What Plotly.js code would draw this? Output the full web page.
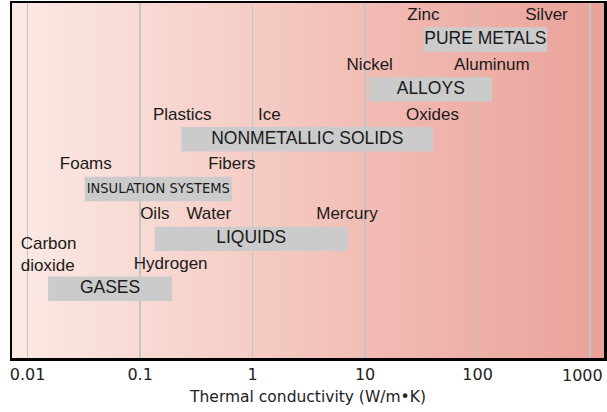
<!DOCTYPE html>
<html>
<head>
<meta charset="utf-8">
<script src="https://cdn.plot.ly/plotly-3.0.1.min.js"></script>
<style>html,body{margin:0;padding:0;background:#fff;}#chart{width:607px;height:412px;}</style>
</head>
<body>
<div id="chart"></div>
<script>
// Material classes: thermal conductivity ranges (W/m·K), bottom row = 0
const classes = ["GASES", "LIQUIDS", "INSULATION SYSTEMS", "NONMETALLIC SOLIDS", "ALLOYS", "PURE METALS"];
const rows    = [0, 1, 2, 3, 4, 5];
const kLow    = [0.0152, 0.135, 0.0322, 0.233, 10.9, 33];
const kHigh   = [0.192, 7.0, 0.653, 40.3, 135, 416];

// Example materials
const matNames = ["Zinc", "Silver", "Nickel", "Aluminum", "Plastics", "Ice", "Oxides",
                  "Foams", "Fibers", "Oils", "Water", "Mercury", "Hydrogen"];
const matK     = [33, 410, 11, 134, 0.237, 1.41, 39.7, 0.0329, 0.653, 0.135, 0.408, 6.9, 0.187];
const matRow   = [5, 5, 4, 4, 3, 3, 3, 2, 2, 1, 1, 1, 0];
const co2Name  = "Carbon<br>dioxide";
const co2K     = 0.00868;
const co2Row   = 0;

const tickVals = [0.01, 0.1, 1, 10, 100, 1000];
const tickText = ["0.01", "0.1", "1", "10", "100", "1000"];

const labelFont = "Liberation Sans, Arial, sans-serif";
const narrowFont = "Liberation Sans Narrow, Arial Narrow, DejaVu Sans Condensed, sans-serif";
const tickFont = {family: "DejaVu Sans, sans-serif", size: 16, color: "#222"};

const bars = {
  type: "bar", orientation: "h",
  y: rows, base: kLow, x: kHigh.map((h, i) => h - kLow[i]),
  width: 0.49, marker: {color: "#cbcbcb", line: {width: 0}},
  hoverinfo: "skip", showlegend: false
};
const classLabels = {
  type: "scatter", mode: "text",
  x: kLow.map((l, i) => Math.sqrt(l * kHigh[i])), y: rows,
  text: classes, textposition: "middle center",
  textfont: {family: classes.map(c => c === "INSULATION SYSTEMS" ? narrowFont : labelFont),
             size: classes.map(c => c === "INSULATION SYSTEMS" ? 14.5 : 17.5), color: "#1a1a1a"},
  hoverinfo: "skip", showlegend: false
};
const matLabels = {
  type: "scatter", mode: "text",
  x: matK, y: matRow.map(r => r + 0.48),
  text: matNames, textposition: "middle center",
  textfont: {family: labelFont, size: 17, color: "#1a1a1a"},
  hoverinfo: "skip", showlegend: false
};
const co2Label = {
  type: "scatter", mode: "text",
  x: [co2K], y: [co2Row + 0.665],
  text: [co2Name], textposition: "middle right",
  textfont: {family: labelFont, size: 17, color: "#1a1a1a"},
  hoverinfo: "skip", showlegend: false
};

const svg = '<svg xmlns="http://www.w3.org/2000/svg" width="600" height="10" preserveAspectRatio="none">' +
  '<defs><linearGradient id="g" x1="0" x2="1" y1="0" y2="0">' +
  '<stop offset="0" stop-color="#fbe9e5"/><stop offset="0.33" stop-color="#f6d2cb"/>' +
  '<stop offset="0.66" stop-color="#f0b8b0"/><stop offset="1" stop-color="#eaa29a"/>' +
  '</linearGradient></defs><rect width="600" height="10" fill="url(#g)"/></svg>';

const lastIdx = tickText.length - 1;
const layout = {
  width: 607, height: 412,
  margin: {l: 12, r: 3, t: 3, b: 54},
  paper_bgcolor: "#ffffff", plot_bgcolor: "rgba(0,0,0,0)",
  showlegend: false,
  images: [{source: "data:image/svg+xml;charset=utf-8," + encodeURIComponent(svg),
            xref: "paper", yref: "paper", x: 0, y: 1, sizex: 1, sizey: 1,
            sizing: "stretch", layer: "below", xanchor: "left", yanchor: "top"}],
  // the last tick label is pulled inside the figure edge, as in the original
  annotations: [{text: tickText[lastIdx], xref: "paper", yref: "paper", x: 1, y: 0,
                 xanchor: "right", yanchor: "middle", xshift: 1, yshift: -17,
                 showarrow: false, font: tickFont}],
  xaxis: {
    type: "log", range: [-2.139, 3.124],
    tickvals: tickVals, ticktext: tickText.map((t, i) => i === lastIdx ? "" : t), ticks: "",
    tickfont: tickFont,
    showgrid: true, gridcolor: "#c4c4c4", gridwidth: 1.5,
    showline: true, mirror: true, linecolor: "#000", linewidth: 2.5,
    zeroline: false,
    title: {text: "Thermal conductivity (W/m•K)", font: {family: "DejaVu Sans, sans-serif", size: 15.5, color: "#222"}, standoff: 9}
  },
  yaxis: {
    range: [-1.39, 5.734], showgrid: false, zeroline: false, showticklabels: false, ticks: "",
    showline: true, mirror: true, linecolor: "#000", linewidth: 2.5
  }
};

Plotly.newPlot("chart", [bars, classLabels, matLabels, co2Label], layout, {displayModeBar: false, staticPlot: true});
</script>
</body>
</html>
